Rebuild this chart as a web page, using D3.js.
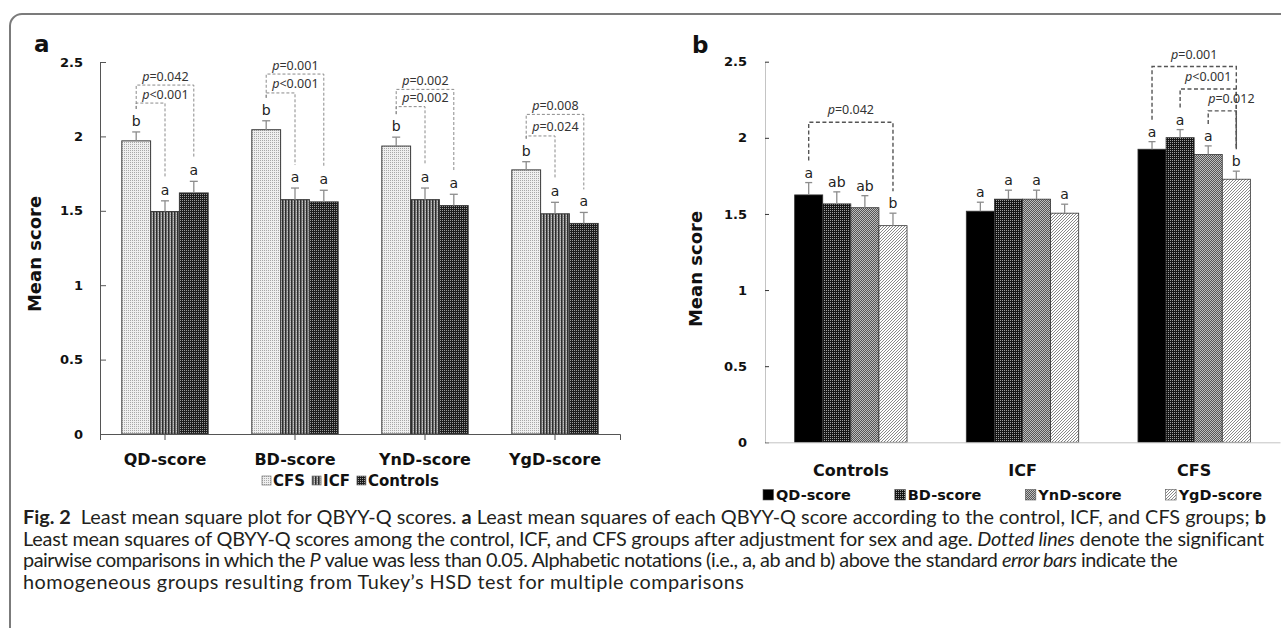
<!DOCTYPE html>
<html>
<head>
<meta charset="utf-8">
<script src="https://cdn.jsdelivr.net/npm/d3@7"></script>
<style>
  body { margin: 0; background: #fff; }
  svg { display: block; }
</style>
</head>
<body>
<svg id="fig" width="1281" height="628"></svg>
<script>
// ---- panel a data: each score by group ----
var scoresA = ["QD-score", "BD-score", "YnD-score", "YgD-score"];
var groupsA = ["CFS", "ICF", "Controls"];
var cfsMean = [1.97, 2.045, 1.935, 1.775];
var cfsErr = [0.06, 0.06, 0.06, 0.055];
var icfMean = [1.495, 1.575, 1.575, 1.48];
var icfErr = [0.072, 0.078, 0.078, 0.077];
var ctrlMean = [1.62, 1.56, 1.535, 1.415];
var ctrlErr = [0.078, 0.078, 0.076, 0.074];
var cfsLetter = ["b", "b", "b", "b"];
var icfLetter = ["a", "a", "a", "a"];
var ctrlLetter = ["a", "a", "a", "a"];
// pairwise comparisons (bracket level in score units)
var bracketsA = [
  { score: "QD-score", from: "CFS", to: "Controls", level: 2.345, p: "=0.042" },
  { score: "QD-score", from: "CFS", to: "ICF", level: 2.224, p: "<0.001" },
  { score: "BD-score", from: "CFS", to: "Controls", level: 2.419, p: "=0.001" },
  { score: "BD-score", from: "CFS", to: "ICF", level: 2.292, p: "<0.001" },
  { score: "YnD-score", from: "CFS", to: "Controls", level: 2.316, p: "=0.002" },
  { score: "YnD-score", from: "CFS", to: "ICF", level: 2.20, p: "=0.002" },
  { score: "YgD-score", from: "CFS", to: "Controls", level: 2.148, p: "=0.008" },
  { score: "YgD-score", from: "CFS", to: "ICF", level: 2.003, p: "=0.024" }
];

// ---- panel b data: each group by score (adjusted) ----
var groupsB = ["Controls", "ICF", "CFS"];
var scoresB = ["QD-score", "BD-score", "YnD-score", "YgD-score"];
var qdMean = [1.625, 1.518, 1.925];
var qdErr = [0.081, 0.059, 0.05];
var bdMean = [1.566, 1.597, 2.001];
var bdErr = [0.079, 0.059, 0.053];
var yndMean = [1.541, 1.597, 1.89];
var yndErr = [0.079, 0.059, 0.057];
var ygdMean = [1.423, 1.505, 1.728];
var ygdErr = [0.082, 0.059, 0.053];
var qdLetter = ["a", "a", "a"];
var bdLetter = ["ab", "a", "a"];
var yndLetter = ["ab", "a", "a"];
var ygdLetter = ["b", "a", "b"];
var bracketsB = [
  { group: "Controls", from: "QD-score", to: "YgD-score", level: 2.102, p: "=0.042" },
  { group: "CFS", from: "QD-score", to: "YgD-score", level: 2.468, p: "=0.001" },
  { group: "CFS", from: "BD-score", to: "YgD-score", level: 2.321, p: "<0.001" },
  { group: "CFS", from: "YnD-score", to: "YgD-score", level: 2.177, p: "=0.012" }
];

var yTicks = [0, 0.5, 1, 1.5, 2, 2.5];

var svg = d3.select("#fig");
var bold = "'DejaVu Sans', sans-serif";

// ---- fill patterns ----
var defs = svg.append("defs");
function pixPattern(id, w, h, bg, pix) {
  var p = defs.append("pattern").attr("id", id)
      .attr("patternUnits", "userSpaceOnUse")
      .attr("width", w).attr("height", h);
  p.append("rect").attr("width", w).attr("height", h).attr("fill", bg);
  pix.forEach(function(q) {
    p.append("rect").attr("x", q[0]).attr("y", q[1])
        .attr("width", q[2]).attr("height", q[3]).attr("fill", q[4]);
  });
}
pixPattern("pCFS", 2, 2, "#efefef", [[0, 0, 1, 1, "#a8a8a8"]]);
pixPattern("pICF", 3, 2, "#9a9a9a", [[0, 0, 1, 2, "#2c2c2c"], [1, 0, 1, 2, "#6c6c6c"], [2, 1, 1, 1, "#c4c4c4"]]);
pixPattern("pCtrl", 2, 2, "#1c1c1c", [[0, 0, 1, 1, "#9a9a9a"]]);
pixPattern("pQD", 2, 2, "#000", []);
pixPattern("pBD", 2, 2, "#151515", [[0, 0, 1, 1, "#a0a0a0"]]);
pixPattern("pYnD", 2, 2, "#555", [[0, 0, 1, 1, "#bdbdbd"], [1, 1, 1, 1, "#bdbdbd"]]);
var hatch = defs.append("pattern").attr("id", "pYgD")
    .attr("patternUnits", "userSpaceOnUse").attr("width", 3).attr("height", 3);
hatch.append("rect").attr("width", 3).attr("height", 3).attr("fill", "#fff");
hatch.append("path").attr("d", "M0,3L3,0M-1,1L1,-1M2,4L4,2")
    .attr("stroke", "#7a7a7a").attr("stroke-width", 0.9);

var fillA = { "CFS": "url(#pCFS)", "ICF": "url(#pICF)", "Controls": "url(#pCtrl)" };
var fillB = { "QD-score": "url(#pQD)", "BD-score": "url(#pBD)", "YnD-score": "url(#pYnD)", "YgD-score": "url(#pYgD)" };

// outer frame
svg.append("rect")
    .attr("x", 10).attr("y", 14).attr("width", 1300).attr("height", 625)
    .attr("rx", 12)
    .attr("fill", "none").attr("stroke", "#7b7b7b").attr("stroke-width", 2);

function pText(sel, p) {
  sel.append("tspan").attr("font-style", "italic").text("p");
  sel.append("tspan").text(p);
}

// =================== panel a ===================
var ga = svg.append("g");
var xa0 = d3.scaleBand().domain(scoresA).range([100, 620]);
var xa1 = d3.scaleBand().domain(groupsA).range([0, xa0.bandwidth()]).paddingOuter(0.757);
var ya = d3.scaleLinear().domain([0, 2.5]).range([434, 62]);

var dataA = [];
scoresA.forEach(function(s, i) {
  dataA.push({ score: s, group: "CFS", v: cfsMean[i], e: cfsErr[i], l: cfsLetter[i] });
  dataA.push({ score: s, group: "ICF", v: icfMean[i], e: icfErr[i], l: icfLetter[i] });
  dataA.push({ score: s, group: "Controls", v: ctrlMean[i], e: ctrlErr[i], l: ctrlLetter[i] });
});
function cxA(s, g) { return xa0(s) + xa1(g) + xa1.bandwidth() / 2; }
function findA(s, g) { return dataA.filter(function(d) { return d.score == s && d.group == g; })[0]; }

ga.selectAll("rect.bar").data(dataA).enter().append("rect")
    .attr("class", "bar")
    .attr("x", function(d) { return xa0(d.score) + xa1(d.group); })
    .attr("y", function(d) { return ya(d.v); })
    .attr("width", xa1.bandwidth())
    .attr("height", function(d) { return ya(0) - ya(d.v); })
    .attr("fill", function(d) { return fillA[d.group]; })
    .attr("stroke", "#3a3a3a").attr("stroke-width", 1);

var errA = ga.selectAll("g.err").data(dataA).enter().append("g").attr("class", "err")
    .attr("stroke", "#8c8c8c").attr("stroke-width", 1.3);
errA.append("line")
    .attr("x1", function(d) { return cxA(d.score, d.group); })
    .attr("x2", function(d) { return cxA(d.score, d.group); })
    .attr("y1", function(d) { return ya(d.v); })
    .attr("y2", function(d) { return ya(d.v + d.e); });
errA.append("line")
    .attr("x1", function(d) { return cxA(d.score, d.group) - 4; })
    .attr("x2", function(d) { return cxA(d.score, d.group) + 4; })
    .attr("y1", function(d) { return ya(d.v + d.e); })
    .attr("y2", function(d) { return ya(d.v + d.e); });

ga.selectAll("text.letter").data(dataA).enter().append("text")
    .attr("class", "letter")
    .attr("x", function(d) { return cxA(d.score, d.group); })
    .attr("y", function(d) { return ya(d.v + d.e) - 6; })
    .attr("text-anchor", "middle")
    .style("font-family", "'DejaVu Sans', sans-serif").style("font-size", "14px")
    .attr("fill", "#222")
    .text(function(d) { return d.l; });

bracketsA.forEach(function(b) {
  var f = findA(b.score, b.from), t = findA(b.score, b.to);
  var x1 = cxA(b.score, b.from), x2 = cxA(b.score, b.to), yl = ya(b.level);
  ga.append("path")
      .attr("d", "M" + x1 + "," + (ya(f.v + f.e) - 23) + "V" + yl + "H" + x2 + "V" + (ya(t.v + t.e) - 23))
      .attr("fill", "none").attr("stroke", "#8a8a8a").attr("stroke-width", 1)
      .attr("stroke-dasharray", "3,2");
  ga.append("text")
      .attr("x", x1 + 6).attr("y", yl - 4.5)
      .style("font-family", "'Noto Sans', sans-serif").style("font-size", "12.5px")
      .attr("fill", "#333")
      .call(pText, b.p);
});

var yAxisA = ga.append("g").attr("transform", "translate(100,0)")
    .call(d3.axisLeft(ya).tickValues(yTicks).tickSize(-6).tickSizeOuter(0).tickPadding(17)
      .tickFormat(function(d) { return String(d); }));
yAxisA.select(".domain").attr("stroke", "#555");
yAxisA.selectAll(".tick line").attr("stroke", "#555");
yAxisA.selectAll("text").style("font-family", bold).style("font-weight", "bold")
    .style("font-size", "13px").attr("fill", "#111");

var xAxisA = ga.append("g").attr("transform", "translate(0,434)")
    .call(d3.axisBottom(xa0).tickSizeInner(6).tickSizeOuter(6).tickPadding(14));
xAxisA.select(".domain").attr("stroke", "#555");
xAxisA.selectAll(".tick line").attr("stroke", "#555");
xAxisA.selectAll("text").style("font-family", bold).style("font-weight", "bold")
    .style("font-size", "16px").attr("fill", "#111");

ga.append("text")
    .attr("transform", "translate(41," + ((ya(0) + ya(2.5)) / 2 + 6) + ") rotate(-90)")
    .attr("text-anchor", "middle")
    .style("font-family", bold).style("font-weight", "bold").style("font-size", "18px")
    .attr("fill", "#111").text("Mean score");

ga.append("text").attr("x", 34).attr("y", 52)
    .style("font-family", bold).style("font-weight", "bold").style("font-size", "23px")
    .attr("fill", "#111").text("a");

// legend a
var legA = ga.append("g");
var lx = 262;
groupsA.forEach(function(g) {
  legA.append("rect").attr("x", lx).attr("y", 476).attr("width", 9).attr("height", 9)
      .attr("fill", fillA[g]).attr("stroke", "#777").attr("stroke-width", 0.7);
  var t = legA.append("text").attr("x", lx + 11).attr("y", 486)
      .style("font-family", bold).style("font-weight", "bold").style("font-size", "15px")
      .attr("fill", "#111").text(g);
  lx += 11 + t.node().getComputedTextLength() + 7;
});

// =================== panel b ===================
var gb = svg.append("g");
var xb0 = d3.scaleBand().domain(groupsB).range([765, 1280]);
var xb1 = d3.scaleBand().domain(scoresB).range([0, xb0.bandwidth()]).paddingOuter(1.055);
var yb = d3.scaleLinear().domain([0, 2.5]).range([442.3, 61.7]);

var meanB = { "QD-score": qdMean, "BD-score": bdMean, "YnD-score": yndMean, "YgD-score": ygdMean };
var errB = { "QD-score": qdErr, "BD-score": bdErr, "YnD-score": yndErr, "YgD-score": ygdErr };
var letB = { "QD-score": qdLetter, "BD-score": bdLetter, "YnD-score": yndLetter, "YgD-score": ygdLetter };
var dataB = [];
groupsB.forEach(function(g, i) {
  scoresB.forEach(function(s) {
    dataB.push({ group: g, score: s, v: meanB[s][i], e: errB[s][i], l: letB[s][i] });
  });
});
function cxB(g, s) { return xb0(g) + xb1(s) + xb1.bandwidth() / 2; }
function findB(g, s) { return dataB.filter(function(d) { return d.group == g && d.score == s; })[0]; }

gb.selectAll("rect.bar").data(dataB).enter().append("rect")
    .attr("class", "bar")
    .attr("x", function(d) { return xb0(d.group) + xb1(d.score); })
    .attr("y", function(d) { return yb(d.v); })
    .attr("width", xb1.bandwidth())
    .attr("height", function(d) { return yb(0) - yb(d.v); })
    .attr("fill", function(d) { return fillB[d.score]; })
    .attr("stroke", "#333").attr("stroke-width", 0.8);

var errBg = gb.selectAll("g.err").data(dataB).enter().append("g").attr("class", "err")
    .attr("stroke", "#8c8c8c").attr("stroke-width", 1.3);
errBg.append("line")
    .attr("x1", function(d) { return cxB(d.group, d.score); })
    .attr("x2", function(d) { return cxB(d.group, d.score); })
    .attr("y1", function(d) { return yb(d.v); })
    .attr("y2", function(d) { return yb(d.v + d.e); });
errBg.append("line")
    .attr("x1", function(d) { return cxB(d.group, d.score) - 3.5; })
    .attr("x2", function(d) { return cxB(d.group, d.score) + 3.5; })
    .attr("y1", function(d) { return yb(d.v + d.e); })
    .attr("y2", function(d) { return yb(d.v + d.e); });

gb.selectAll("text.letter").data(dataB).enter().append("text")
    .attr("class", "letter")
    .attr("x", function(d) { return cxB(d.group, d.score); })
    .attr("y", function(d) { return yb(d.v + d.e) - 5; })
    .attr("text-anchor", "middle")
    .style("font-family", "'DejaVu Sans', sans-serif").style("font-size", "14px")
    .attr("fill", "#222")
    .text(function(d) { return d.l; });

bracketsB.forEach(function(b) {
  var f = findB(b.group, b.from), t = findB(b.group, b.to);
  var x1 = cxB(b.group, b.from), x2 = cxB(b.group, b.to), yl = yb(b.level);
  gb.append("path")
      .attr("d", "M" + x1 + "," + (yb(f.v + f.e) - 22) + "V" + yl + "H" + x2 + "V" + (yb(t.v + t.e) - 22))
      .attr("fill", "none").attr("stroke", "#555").attr("stroke-width", 1.4)
      .attr("stroke-dasharray", "4,2.5");
  var tx = gb.append("text")
      .attr("y", yl - 8)
      .attr("text-anchor", "middle")
      .style("font-family", "'Noto Sans', sans-serif").style("font-size", "12.5px")
      .attr("fill", "#333")
      .call(pText, b.p);
  var w = tx.node().getComputedTextLength();
  tx.attr("x", Math.max((x1 + x2) / 2, x1 + w / 2));
});

var yAxisB = gb.append("g").attr("transform", "translate(765,0)")
    .call(d3.axisLeft(yb).tickValues(yTicks).tickSize(-4).tickSizeOuter(0).tickPadding(18)
      .tickFormat(function(d) { return String(d); }));
yAxisB.select(".domain").attr("stroke", "#c4c4c4");
yAxisB.selectAll(".tick line").attr("stroke", "#333");
yAxisB.selectAll("text").style("font-family", bold).style("font-weight", "bold")
    .style("font-size", "13px").attr("fill", "#111");

var xAxisB = gb.append("g").attr("transform", "translate(0,442.3)")
    .call(d3.axisBottom(xb0).tickSize(0).tickPadding(22));
xAxisB.select(".domain").attr("stroke", "#c4c4c4");
xAxisB.selectAll("text").style("font-family", bold).style("font-weight", "bold")
    .style("font-size", "16px").attr("fill", "#111");

gb.append("text")
    .attr("transform", "translate(702," + ((yb(0) + yb(2.5)) / 2 + 17) + ") rotate(-90)")
    .attr("text-anchor", "middle")
    .style("font-family", bold).style("font-weight", "bold").style("font-size", "18px")
    .attr("fill", "#111").text("Mean score");

gb.append("text").attr("x", 692).attr("y", 53)
    .style("font-family", bold).style("font-weight", "bold").style("font-size", "23px")
    .attr("fill", "#111").text("b");

// legend b: spread between 763 and 1262
var legB = gb.append("g");
var items = scoresB.map(function(s) {
  var t = legB.append("text").attr("y", 500)
      .style("font-family", bold).style("font-weight", "bold").style("font-size", "14.5px")
      .attr("fill", "#111").text(s);
  return { s: s, t: t, w: 13 + t.node().getComputedTextLength() };
});
var gap = (1262 - 763 - d3.sum(items, function(d) { return d.w; })) / (items.length - 1);
var bx = 763;
items.forEach(function(it) {
  legB.append("rect").attr("x", bx).attr("y", 489.5).attr("width", 10.5).attr("height", 10.5)
      .attr("fill", fillB[it.s]).attr("stroke", "#555").attr("stroke-width", 0.6);
  it.t.attr("x", bx + 13);
  bx += it.w + gap;
});

// =================== caption ===================
var captionLines = [
  [["Fig. 2", "b"], ["\u2002Least mean square plot for QBYY-Q scores. ", ""], ["a", "b"],
   [" Least mean squares of each QBYY-Q score according to the control, ICF, and CFS groups; ", ""], ["b", "b"]],
  [["Least mean squares of QBYY-Q scores among the control, ICF, and CFS groups after adjustment for sex and age. ", ""],
   ["Dotted lines", "i"], [" denote the significant", ""]],
  [["pairwise comparisons in which the ", ""], ["P", "i"],
   [" value was less than 0.05. Alphabetic notations (i.e., a, ab and b) above the standard ", ""],
   ["error bars", "i"], [" indicate the", ""]],
  [["homogeneous groups resulting from Tukey\u2019s HSD test for multiple comparisons", ""]]
];
var capWidths = [1243, 1239, 1155, 722];
var cap = svg.append("g").style("font-family", "Lato, sans-serif").attr("fill", "#231f20");
var capTexts = captionLines.map(function(parts, i) {
  var t = cap.append("text").attr("x", 23).attr("y", 524 + i * 21.5).style("font-size", "16px");
  parts.forEach(function(p) {
    var ts = t.append("tspan").text(p[0]);
    if (p[1] == "b") ts.attr("font-weight", "bold");
    if (p[1] == "i") ts.attr("font-style", "italic");
  });
  return t;
});
// size the caption so its first line spans the frame, then even out the rest
var capFs = 16 * capWidths[0] / capTexts[0].node().getComputedTextLength();
capTexts.forEach(function(t, i) {
  t.style("font-size", capFs + "px");
  var ls = (capWidths[i] - t.node().getComputedTextLength()) / t.text().length;
  t.style("letter-spacing", ls + "px");
});
</script>
</body>
</html>
